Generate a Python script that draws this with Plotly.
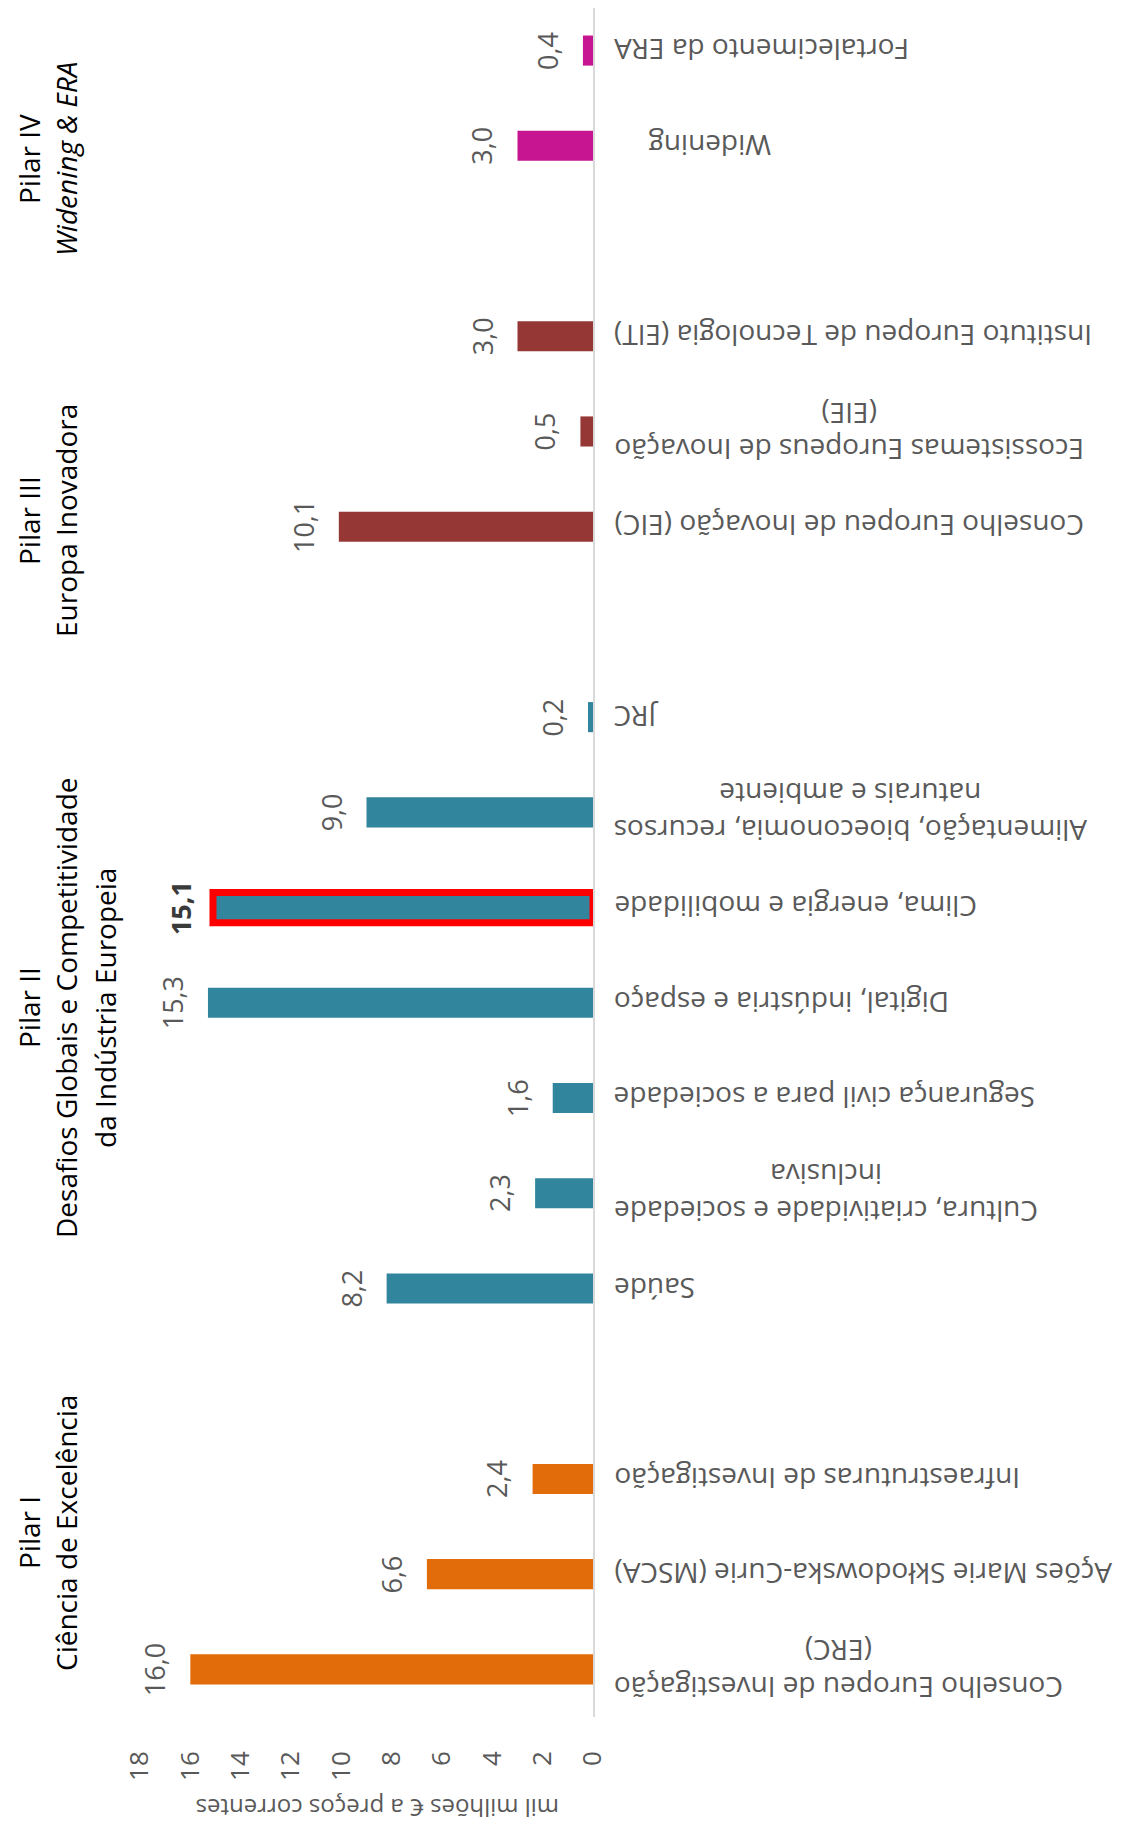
import plotly.graph_objects as go

# ---------------- data ----------------
categories = [
    "Conselho Europeu de Investigação (ERC)",
    "Ações Marie Skłodowska-Curie (MSCA)",
    "Infraestruturas de Investigação",
    "Saúde",
    "Cultura, criatividade e sociedade inclusiva",
    "Segurança civil para a sociedade",
    "Digital, indústria e espaço",
    "Clima, energia e mobilidade",
    "Alimentação, bioeconomia, recursos naturais e ambiente",
    "JRC",
    "Conselho Europeu de Inovação (EIC)",
    "Ecossistemas Europeus de Inovação (EIE)",
    "Instituto Europeu de Tecnologia (EIT)",
    "Widening",
    "Fortalecimento da ERA",
]
labels = [
    "Conselho Europeu de Investigação<br>(ERC)",
    "Ações Marie Skłodowska-Curie (MSCA)",
    "Infraestruturas de Investigação",
    "Saúde",
    "Cultura, criatividade e sociedade<br>inclusiva",
    "Segurança civil para a sociedade",
    "Digital, indústria e espaço",
    "Clima, energia e mobilidade",
    "Alimentação, bioeconomia, recursos<br>naturais e ambiente",
    "JRC",
    "Conselho Europeu de Inovação (EIC)",
    "Ecossistemas Europeus de Inovação<br>(EIE)",
    "Instituto Europeu de Tecnologia (EIT)",
    "Widening",
    "Fortalecimento da ERA",
]
values = [16.0, 6.6, 2.4, 8.2, 2.3, 1.6, 15.3, 15.1, 9.0, 0.2, 10.1, 0.5, 3.0, 3.0, 0.4]
pillars = ["I", "I", "I", "II", "II", "II", "II", "II", "II", "II", "III", "III", "III", "IV", "IV"]

pillar_ids = ["I", "II", "III", "IV"]
pillar_titles = [
    ["Pilar I", "Ciência de Excelência"],
    ["Pilar II", "Desafios Globais e Competitividade", "da Indústria Europeia"],
    ["Pilar III", "Europa Inovadora"],
    ["Pilar IV", "<i>Widening & ERA</i>"],
]
x_ticks = [0, 2, 4, 6, 8, 10, 12, 14, 16, 18]
axis_title = "mil milhões € a preços correntes"
highlight = "Clima, energia e mobilidade"

# ---------------- styles ----------------
pillar_colors = {"I": "#E36C0A", "II": "#31859C", "III": "#953735", "IV": "#C71591"}
# pixel centre (y) of each pillar title block
pillar_title_y = {"I": 1525, "II": 1000, "III": 513, "IV": 151}
title_line_x = [21, 58, 97]  # pixel x of successive title lines
label_extra_shift = {"Widening": 35}

W, H = 1127, 1825
L, R, T, B = 132, 542, 0, 116
PW, PH = W - L - R, H - T - B
FONT = "Open Sans"
GRAY = "#595959"


def px_x(px):
    return (px - L) / PW


def px_y(py):
    return (H - B - py) / PH


# category order with an empty slot between pillars
y_order = []
prev = None
for cat, p in zip(categories, pillars):
    if prev is not None and p != prev:
        y_order.append("gap_" + p)
    y_order.append(cat)
    prev = p

fig = go.Figure(
    go.Bar(
        x=values,
        y=categories,
        orientation="h",
        marker=dict(
            color=[pillar_colors[p] for p in pillars],
            line=dict(
                color="#FF0000",
                width=[7 if c == highlight else 0 for c in categories],
            ),
        ),
        hoverinfo="skip",
    )
)

annotations = []
for cat, lab, v in zip(categories, labels, values):
    # category label (upside down)
    annotations.append(dict(
        x=1, xref="paper", y=cat, yref="y",
        xanchor="left", yanchor="middle",
        xshift=19 + label_extra_shift.get(cat, 0),
        text=lab, textangle=180, align="center", showarrow=False,
        font=dict(family=FONT, size=28, color=GRAY),
    ))
    # data label
    txt = f"{v:.1f}".replace(".", ",")
    if cat == highlight:
        txt = "<b>" + txt + "</b>"
    annotations.append(dict(
        x=v, xref="x", y=cat, yref="y",
        xanchor="right", yanchor="middle",
        xshift=-15 if cat != highlight else -12,
        text=txt, textangle=-90, showarrow=False,
        font=dict(family=FONT, size=27, color=GRAY if cat != highlight else "#3A3A3A"),
    ))

for pid, lines in zip(pillar_ids, pillar_titles):
    cy = pillar_title_y[pid]
    for i, line in enumerate(lines):
        annotations.append(dict(
            x=px_x(title_line_x[i]), xref="paper", y=px_y(cy), yref="paper",
            xanchor="center", yanchor="middle",
            text=line, textangle=-90, align="center", showarrow=False,
            font=dict(family=FONT, size=28, color="#000000"),
        ))

annotations.append(dict(
    x=px_x(369), xref="paper", y=px_y(1801), yref="paper",
    xanchor="center", yanchor="middle",
    text=axis_title, textangle=180, showarrow=False,
    font=dict(family=FONT, size=24, color=GRAY),
))

fig.update_layout(
    width=W, height=H,
    margin=dict(l=L, r=R, t=T, b=B, pad=0),
    paper_bgcolor="white", plot_bgcolor="white",
    showlegend=False, bargap=0.684,
    annotations=annotations,
    font=dict(family=FONT, color=GRAY),
    xaxis=dict(
        range=[18, 0], tickvals=x_ticks, ticktext=[str(t) for t in x_ticks],
        tickangle=-90, showgrid=False, zeroline=False, showline=False,
        ticks="", ticklabelstandoff=28,
        tickfont=dict(family=FONT, size=26, color=GRAY),
        fixedrange=True,
    ),
    yaxis=dict(
        type="category", categoryorder="array", categoryarray=y_order,
        range=[-0.5, 17.447],
        side="right", showticklabels=False, showgrid=False, zeroline=False,
        showline=True, linecolor="#D9D9D9", linewidth=2, ticks="",
        fixedrange=True,
    ),
)

fig.write_html("out.html")
